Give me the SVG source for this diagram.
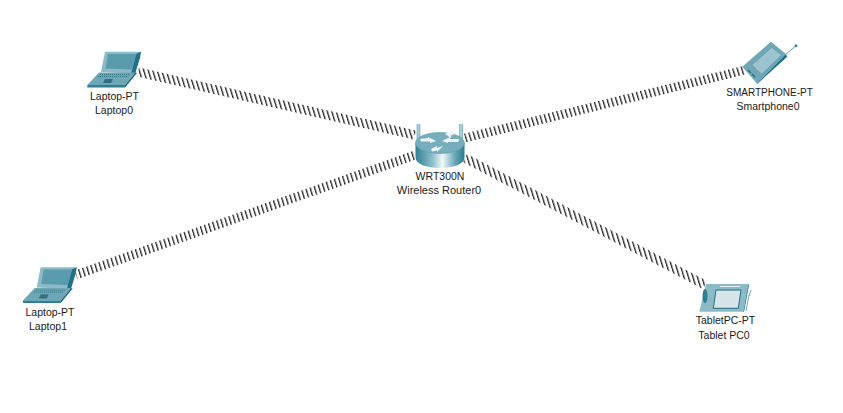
<svg xmlns="http://www.w3.org/2000/svg" width="843" height="413" viewBox="0 0 843 413">
<style>
text{font-family:"Liberation Sans",Arial,sans-serif;font-size:10.500px;fill:#1a1a1a;text-anchor:middle}
.w{fill:none;stroke:url(#hatch);stroke-width:9}
</style>
<defs>
<pattern id="hatch" patternUnits="userSpaceOnUse" width="4.500" height="40" patternTransform="skewX(17)">
<rect x="0" y="0" width="1.350" height="40" fill="#222"/>
</pattern>
<linearGradient id="side" x1="0" x2="1" y1="0" y2="0">
<stop offset="0" stop-color="#2f7f93"/><stop offset=".35" stop-color="#8fc0cc"/><stop offset=".55" stop-color="#f2f8f9"/><stop offset=".8" stop-color="#6ba9b9"/><stop offset="1" stop-color="#2b7a8e"/>
</linearGradient>
<g id="laptop">
<path d="M105 51.700H141L135 73.500L101 72Z" fill="#8dbac7"/>
<path d="M141 51.700L140 58L135 74L131 74L136 54Z" fill="#1f7186"/>
<path d="M108 54H136.500L132 69.500L105.500 68.500Z" fill="#5a9bae"/>
<path d="M99 72.500H135.500L125 85H87.300Z" fill="#6fa7b6"/>
<path d="M87.300 85H125V87.500H87.300Z" fill="#2f7f93"/>
<path d="M135.500 72.500L137 73L125 87.500V85Z" fill="#17687d"/>
<path d="M100 74.500H130M98 76.500H128" stroke="#2f6f80" stroke-width="1" stroke-dasharray="1 1"/>
<path d="M105 79H113L111 83H103Z" fill="#2f6f80"/>
</g>
</defs>
<rect width="843" height="413" fill="#fff"/>
<g id="connectors">
<path class="w" d="M138 72L415 135"/>
<path class="w" d="M76 275L415 155"/>
<path class="w" d="M465 138L745 70"/>
<path class="w" d="M465 158L705 285"/>
</g>
<g id="laptop0">
<use href="#laptop"/>
<text x="114.500" y="100">Laptop-PT</text>
<text x="114" y="114">Laptop0</text>
</g>
<g id="laptop1">
<use href="#laptop" x="-64.300" y="215.600"/>
<text x="50" y="316">Laptop-PT</text>
<text x="48" y="330">Laptop1</text>
</g>
<g id="router">
<path d="M417 124V142H420V124M459.500 124V142H462.500V124" fill="#a9d0da" stroke="#5f9cae" stroke-width=".6"/>
<path d="M415.500 143V157C415.500 164 426 168 440 168S464.500 164 464.500 157V143Z" fill="url(#side)"/>
<ellipse cx="440" cy="143" rx="24.500" ry="10.500" fill="#76aebe" stroke="#5e9aab" stroke-width=".6"/>
<path d="M420 139L428 138V137L436 141L430 143V141.500L421 141.500ZM459 139L450 139V137L442 141L448 143V142L458 142ZM445 134L451 138V135.500L457 133L451 132V130.500ZM431 149L437 146V148L443 146L437 152V150.500L432 151.500Z" fill="#eef6f8"/>
<text x="440" y="180">WRT300N</text>
<text x="439" y="194" style="font-size:11px">Wireless Router0</text>
</g>
<g id="smartphone">
<path d="M786 54L796 45.700" stroke="#5f9cae" stroke-width="1"/>
<circle cx="796" cy="45.700" r="1.300" fill="#1f6f80"/>
<path d="M771 41.700L786 54L756.700 83.300L742.300 66.700Z" fill="#6fa7b6"/>
<path d="M786 54L787 57L757 84L756.700 83.300Z" fill="#1f7186"/>
<path d="M771.700 47.300L781.700 55L761.700 74.300L751.700 65Z" fill="#9cc3ce" stroke="#5f9cae" stroke-width=".8"/>
<path d="M748 70L751 73M752 74L755 77" stroke="#2f6f80" stroke-width="1.500"/>
<text x="769.500" y="96" style="font-size:10px">SMARTPHONE-PT</text>
<text x="768" y="110">Smartphone0</text>
</g>
<g id="tablet">
<path d="M706 284H748.300L743.300 311.700H699.300Z" fill="#8dbac7"/>
<path d="M748.300 284L749 285L744 312H743.300Z" fill="#1f7186"/>
<path d="M716 290H741L738.300 308.300H713.300Z" fill="#d5e5ea" stroke="#1f6f80" stroke-width="1"/>
<ellipse cx="705" cy="296" rx="2.500" ry="7" fill="#2f7f93"/>
<path d="M720 286.500H740" stroke="#e6f0f3" stroke-width="1"/>
<path d="M749 295L746 311M751 290L749 296" stroke="#6fa7b6" stroke-width="1"/>
<text x="725.500" y="324">TabletPC-PT</text>
<text x="724" y="339">Tablet PC0</text>
</g>
</svg>
